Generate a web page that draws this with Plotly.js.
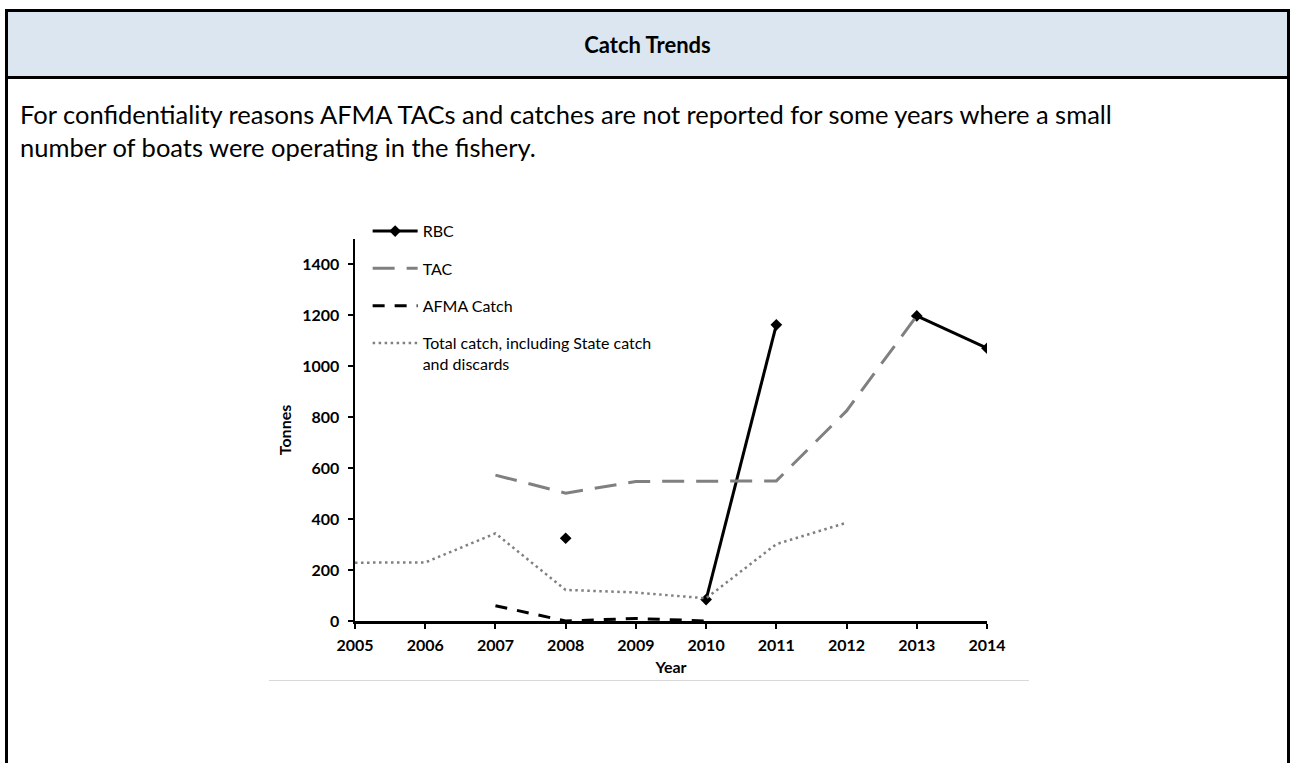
<!DOCTYPE html>
<html>
<head>
<meta charset="utf-8">
<script src="https://cdn.plot.ly/plotly-3.0.1.min.js"></script>
<style>
  html, body { margin:0; padding:0; width:1292px; height:763px; overflow:hidden; background:#fff; font-family: Lato, "Open Sans", sans-serif; }
  #frame { position:absolute; left:5px; top:9px; width:1279px; height:800px; border:3px solid #000; }
  #header { position:absolute; left:0; top:0; width:100%; height:64px; background:#dce6f1; border-bottom:3px solid #000; }
  #header span { position:absolute; left:0; width:100%; top:20px; line-height:26px; text-align:center; font-weight:bold; font-size:22px; color:#000; }
  #para { position:absolute; left:12px; top:86px; width:1260px; font-size:25.5px; line-height:33px; color:#000; white-space:nowrap; }
  #sep { position:absolute; left:269px; top:680px; width:760px; height:1px; background:#d9d9d9; }
  #chart { position:absolute; left:0; top:0; width:1292px; height:763px; }
</style>
</head>
<body>
<div id="frame">
  <div id="header"><span>Catch Trends</span></div>
  <div id="para">For confidentiality reasons AFMA TACs and catches are not reported for some years where a small<br>number of boats were operating in the fishery.</div>
</div>
<div id="sep"></div>
<div id="chart"></div>
<script>
const years = [2005, 2006, 2007, 2008, 2009, 2010, 2011, 2012, 2013, 2014];
const rbc = [null, null, null, 325, null, 84, 1163, null, 1198, 1071];
const tac = [null, null, 573, 502, 548, 550, 550, 825, 1198, null];
const afmaCatch = [null, null, 60, 0, 10, 0, null, null, null, null];
const totalCatch = [229, 230, 344, 122, 112, 89, 302, 386, null, null];
const yTicks = [0, 200, 400, 600, 800, 1000, 1200, 1400];

const traces = [
  { x: years, y: rbc, name: 'RBC', type: 'scatter', mode: 'lines+markers', legendgroup: 'a',
    line: { color: '#000000', width: 3 }, marker: { symbol: 'diamond', size: 9, color: '#000000' }, connectgaps: false },
  { x: years, y: tac, name: 'TAC', type: 'scatter', mode: 'lines', legendgroup: 'b',
    line: { color: '#808080', width: 3, dash: '22px,12px' }, connectgaps: false },
  { x: years, y: afmaCatch, name: 'AFMA Catch', type: 'scatter', mode: 'lines', legendgroup: 'c',
    line: { color: '#000000', width: 3, dash: '12px,10px' }, connectgaps: false },
  { x: years, y: totalCatch, name: 'Total catch, including State catch<br>and discards', type: 'scatter', mode: 'lines', legendgroup: 'd',
    line: { color: '#808080', width: 2.5, dash: '2.5px,3.5px' }, connectgaps: false }
];

const layout = {
  width: 1292, height: 763,
  margin: { l: 355, r: 305, t: 239, b: 142 },
  paper_bgcolor: 'rgba(0,0,0,0)', plot_bgcolor: 'rgba(0,0,0,0)',
  font: { family: 'Lato, "Open Sans", sans-serif', color: '#000' },
  showlegend: true,
  legend: { x: 0.02, y: 1.065, xanchor: 'left', yanchor: 'top', bgcolor: 'rgba(0,0,0,0)',
            font: { size: 16, color: '#000' }, tracegroupgap: 13.5, valign: 'top', itemwidth: 45, traceorder: 'grouped' },
  xaxis: { range: [2005, 2014], tickvals: years, ticktext: years.map(String), showgrid: false, zeroline: false,
           showline: true, linecolor: '#000', linewidth: 2.5, ticks: 'outside', tickcolor: '#000', ticklen: 5, tickwidth: 2,
           ticklabelstandoff: 3,
           tickfont: { size: 16, weight: 'bold' },
           title: { text: 'Year', font: { size: 16, weight: 'bold' }, standoff: 9 } },
  yaxis: { range: [0, 1500], tickvals: yTicks, showgrid: false, zeroline: false,
           showline: true, linecolor: '#000', linewidth: 2.5, ticks: 'outside', tickcolor: '#000', ticklen: 5, tickwidth: 2,
           ticklabelstandoff: 5,
           tickfont: { size: 16, weight: 'bold' },
           title: { text: 'Tonnes', font: { size: 16, weight: 'bold' }, standoff: 7 } }
};

Plotly.newPlot('chart', traces, layout, { displayModeBar: false, staticPlot: true });
</script>
</body>
</html>
